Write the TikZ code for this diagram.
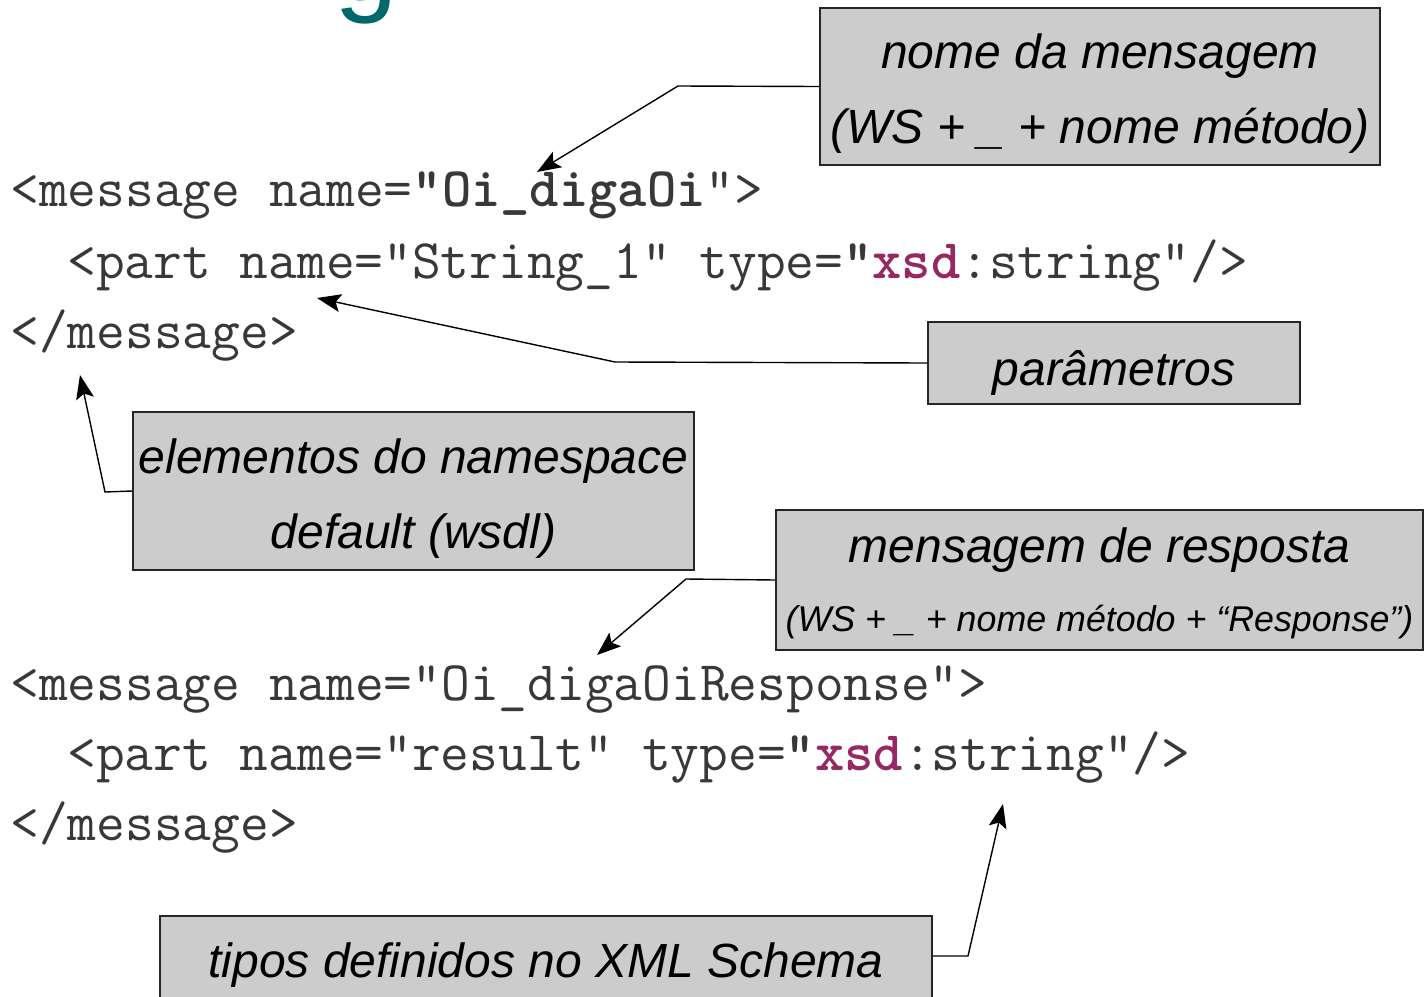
\documentclass[tikz,border=0pt]{standalone}
\usepackage{fontspec}
\setsansfont{Liberation Sans}
\usepackage{xcolor}
\usepackage{tikz}
\usetikzlibrary{arrows.meta, positioning, calc}

\definecolor{titleteal}{RGB}{0,104,107}
\definecolor{xsdred}{RGB}{150,40,100}
\definecolor{boxgray}{RGB}{204,204,204}
\newcommand{\xsd}{\textcolor{xsdred}{xsd}}

\begin{document}
\begin{tikzpicture}[
  x=0.5pt, y=-0.5pt,
  box/.style={draw=black!85, line width=0.8pt, fill=boxgray, inner sep=0pt,
              align=center, font=\fontsize{24pt}{37.5pt}\selectfont\sffamily\itshape},
  drop/.style 2 args={text height=#1, text depth=#2},
  code/.style={anchor=base west, inner sep=0pt, text=black!78,
               font=\fontsize{27.9pt}{32pt}\selectfont\ttfamily},
  arr/.style={-{Stealth[length=12pt,width=9pt,inset=2.5pt]}, line width=0.7pt, black}
]
  \useasboundingbox (0,0) rectangle (1426,997);

  % title residue
  \node[anchor=base, inner sep=0pt, text=titleteal,
        font=\fontsize{57pt}{60pt}\selectfont\sffamily] (title) at (366,0) {g};

  % code lines
  \node[code] (msg1) at (10,206) {<message name=\textbf{"Oi\_digaOi}">};
  \node[code] (part1) at (67,278) {<part name="String\_1" type=\textbf{"\xsd}:string"/>};
  \node[code] (end1) at (10,348) {</message>};
  \node[code] (msg2) at (10,700) {<message name="Oi\_digaOiResponse">};
  \node[code] (part2) at (67,770) {<part name="result" type=\textbf{"\xsd}:string"/>};
  \node[code] (end2) at (10,840) {</message>};

  % comment boxes
  \node[box, drop={60pt}{3.5pt}, minimum width=280pt, minimum height=78.5pt] (nome) at (1100,86.5)
    {nome da mensagem\\(WS + \_ + nome método)};
  \node[box, drop={28pt}{6pt}, minimum width=186pt, minimum height=41pt] (param) at (1114,363) {parâmetros};
  \node[box, drop={60pt}{3pt}, minimum width=280.5pt, minimum height=79pt] (elem) at (413.5,491)
    {elementos do namespace\\default (wsdl)};
  \node[box, drop={55pt}{4pt}, minimum width=323.5pt, minimum height=70pt] (resp) at (1099.5,580)
    {mensagem de resposta\\[-3pt]{\fontsize{17.9pt}{20pt}\selectfont(WS + \_ + nome método + “Response”)}};
  \node[box, drop={20pt}{6pt}, minimum width=386pt, minimum height=47pt] (tipos) at (546,963)
    {tipos definidos no XML Schema};

  % bends and tips
  \coordinate (bendA) at (678,86);
  \coordinate (tipA) at (537,172);
  \coordinate (bendB) at (615,362);
  \coordinate (tipB) at (317,298);
  \coordinate (bendC) at (105,492);
  \coordinate (tipC) at (80,375);
  \coordinate (bendD) at (686,579);
  \coordinate (tipD) at (597,655);
  \coordinate (bendE) at (968,956);
  \coordinate (tipE) at (1003,804);

  \draw[arr] (nome.west) -- (bendA) -- (tipA);
  \draw[arr] (param.west) -- (bendB) -- (tipB);
  \draw[arr] (elem.west) -- (bendC) -- (tipC);
  \draw[arr] (resp.west) -- (bendD) -- (tipD);
  \draw[arr] (tipos.east |- bendE) -- (bendE) -- (tipE);
\end{tikzpicture}
\end{document}
